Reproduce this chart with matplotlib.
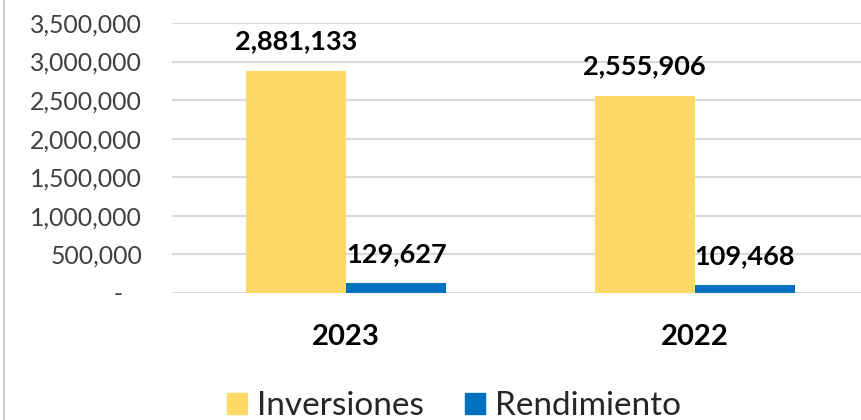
import matplotlib.pyplot as plt
from matplotlib.lines import Line2D
from matplotlib.patches import Patch
from matplotlib.ticker import FuncFormatter
import numpy as np

# Data
years = ["2023", "2022"]
inversiones = [2881133, 2555906]
rendimiento = [129627, 109468]

yellow = "#FFD966"
blue = "#0070C0"

plt.rcParams["font.family"] = ["Lato", "DejaVu Sans"]

W, H = 861, 420
fig = plt.figure(figsize=(W / 100, H / 100), dpi=100)
ax = fig.add_axes([172 / W, 127 / H, 697 / W, 270 / H])

x = np.arange(len(years))
bw = 0.287
ax.bar(x - bw / 2, inversiones, bw, color=yellow, zorder=3)
ax.bar(x + bw / 2, rendimiento, bw, color=blue, zorder=3)

# value labels above the bars
for xi, v in zip(x - bw / 2, inversiones):
    ax.annotate(f"{v:,}", xy=(xi, v), xytext=(0, 15.5), textcoords="offset points",
                ha="center", va="baseline", fontsize=19.5, fontweight="bold", color="black")
for xi, v in zip(x + bw / 2, rendimiento):
    ax.annotate(f"{v:,}", xy=(xi, v), xytext=(0, 15), textcoords="offset points",
                ha="center", va="baseline", fontsize=19.5, fontweight="bold", color="black")

ax.set_xlim(-0.5, 1.5)
ax.set_ylim(0, 3500000)
ax.set_yticks(np.arange(0, 3500001, 500000))
ax.yaxis.set_major_formatter(FuncFormatter(lambda v, p: "-   " if v == 0 else f"{int(v):,}"))
ax.set_xticks(x)
ax.set_xticklabels(years, fontsize=21, fontweight="bold", color="black")

ax.tick_params(axis="y", length=0, pad=21.5, labelsize=17.8, labelcolor="#404040")
ax.tick_params(axis="x", length=0, pad=22)
ax.grid(axis="y", color="#D9D9D9", linewidth=1.5, zorder=0)
ax.set_axisbelow(True)
for s in ax.spines.values():
    s.set_visible(False)

handles = [Patch(color=yellow, label="Inversiones"), Patch(color=blue, label="Rendimiento")]
fig.legend(handles=handles, loc="center", bbox_to_anchor=(454 / W, 1 - 406 / H),
           ncol=2, frameon=False, fontsize=24, handlelength=0.6, handleheight=0.6,
           handletextpad=0.3, columnspacing=1.25, borderpad=0, labelcolor="#262626")

# chart border on the left edge
fig.add_artist(Line2D([3.5 / W, 3.5 / W], [0, 1], color="#D0D0D0", linewidth=1.5))

fig.savefig("out.png", dpi=100)
